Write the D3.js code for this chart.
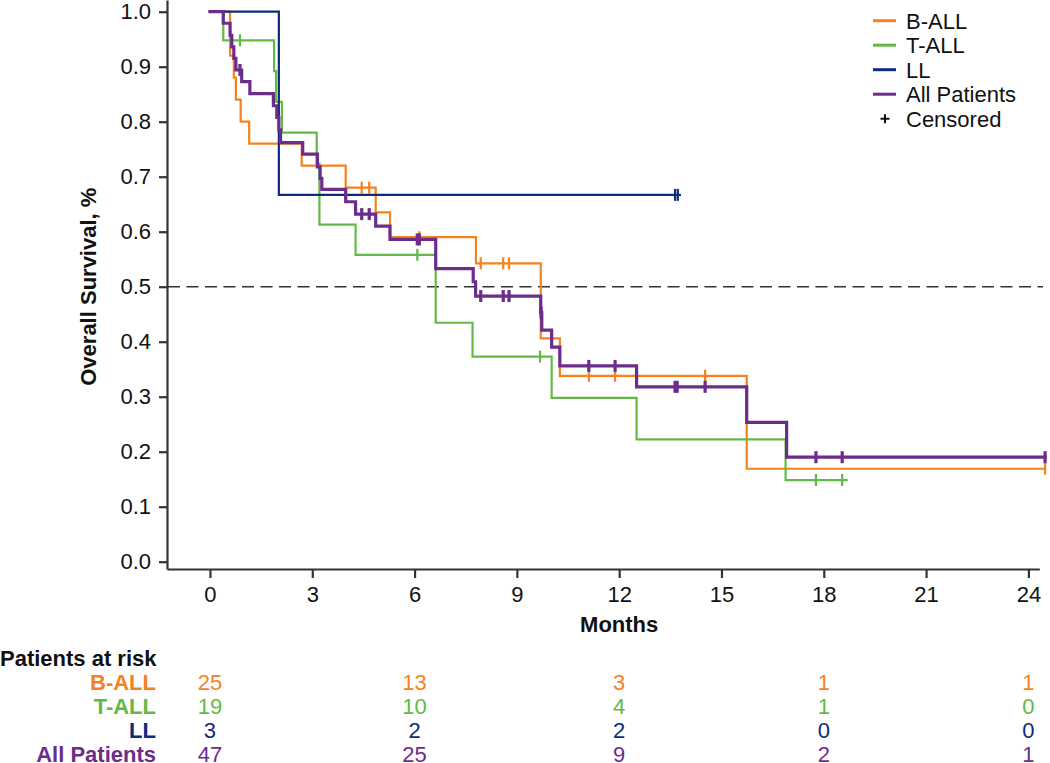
<!DOCTYPE html>
<html><head><meta charset="utf-8">
<script src="https://cdn.jsdelivr.net/npm/d3@7"></script>
<style>
body{margin:0;background:#fff;}
svg{display:block;}
text{font-family:"Liberation Sans",Arial,Helvetica,sans-serif;}
</style>
</head><body>
<svg id="c" width="1050" height="763"></svg>
<script>
// ---------------- DATA ----------------
const seriesNames = ["B-ALL", "T-ALL", "LL", "All Patients"];
const seriesColors = ["#F5821F", "#63B946", "#0C2C7C", "#6B2C8C"];

// step drop times (months) and survival after each drop
const bAllTimes = [0.59, 0.70, 0.76, 0.90, 1.15, 2.69, 3.98, 4.86, 5.28, 7.80, 9.70, 10.26, 15.74];
const bAllSurv  = [0.92, 0.88, 0.84, 0.80, 0.76, 0.72, 0.68, 0.635, 0.59, 0.5425, 0.406, 0.338, 0.169];
const bAllCensor = [4.45, 4.67, 6.14, 7.94, 8.60, 8.77, 11.11, 11.88, 14.52, 24.49];
const bAllEnd = 24.49;

const tAllTimes = [0.39, 1.88, 1.94, 2.11, 3.13, 3.21, 4.27, 6.62, 7.70, 10.02, 12.51, 16.88];
const tAllSurv  = [0.948, 0.892, 0.836, 0.780, 0.724, 0.613, 0.558, 0.4345, 0.373, 0.298, 0.2225, 0.1485];
const tAllCensor = [0.88, 6.08, 9.68, 17.77, 18.54];
const tAllEnd = 18.67;

const llTimes = [2.02];
const llSurv  = [0.667];
const llCensor = [13.64, 13.72];
const llEnd = 13.78;

const allTimes = [0.39, 0.59, 0.64, 0.70, 0.76, 0.93, 1.17, 1.86, 1.96, 2.02, 2.07, 2.72, 3.15, 3.23, 3.28,
                  3.98, 4.27, 4.86, 5.28, 6.62, 7.72, 7.79, 9.70, 9.73, 10.02, 10.26, 12.51, 15.74, 16.91];
const allSurv  = [0.979, 0.957, 0.936, 0.915, 0.894, 0.873, 0.851, 0.829, 0.808, 0.785, 0.762, 0.741, 0.718, 0.697, 0.677,
                  0.6545, 0.632, 0.610, 0.586, 0.533, 0.509, 0.483, 0.453, 0.421, 0.390, 0.356, 0.318, 0.2535, 0.190];
const allCensor = [0.88, 4.45, 4.67, 6.08, 6.14, 7.94, 8.60, 8.77, 9.71, 11.11, 11.88, 13.64, 13.70, 14.52, 17.77, 18.54, 24.49];
const allEnd = 24.49;

const xTicks = [0, 3, 6, 9, 12, 15, 18, 21, 24];
const yTicks = [0, 0.1, 0.2, 0.3, 0.4, 0.5, 0.6, 0.7, 0.8, 0.9, 1.0];
const riskTimes = [0, 6, 12, 18, 24];
const riskBAll = [25, 13, 3, 1, 1];
const riskTAll = [19, 10, 4, 1, 0];
const riskLL   = [3, 2, 2, 0, 0];
const riskAll  = [47, 25, 9, 2, 1];
const medianLine = 0.5;

// ---------------- CHART ----------------
const series = [
  {name: seriesNames[0], color: seriesColors[0], times: bAllTimes, surv: bAllSurv, censor: bAllCensor, end: bAllEnd, w: 2.2},
  {name: seriesNames[1], color: seriesColors[1], times: tAllTimes, surv: tAllSurv, censor: tAllCensor, end: tAllEnd, w: 2.2},
  {name: seriesNames[2], color: seriesColors[2], times: llTimes, surv: llSurv, censor: llCensor, end: llEnd, w: 2.2},
  {name: seriesNames[3], color: seriesColors[3], times: allTimes, surv: allSurv, censor: allCensor, end: allEnd, w: 3.2}
];
const risk = [riskBAll, riskTAll, riskLL, riskAll];

const svg = d3.select("#c");
const x = d3.scaleLinear().domain([-1.26, 24.32]).range([167, 1039.3]);
const y = d3.scaleLinear().domain([-0.01327, 1.0213]).range([569, 0]);
const axisColor = "#333";
const FS = "22px";

// axes
const gx = svg.append("g").attr("transform", "translate(0,569)")
  .call(d3.axisBottom(x).tickValues(xTicks).tickFormat(d3.format("d")).tickSize(9).tickPadding(8).tickSizeOuter(0));
const gy = svg.append("g").attr("transform", "translate(167,0)")
  .call(d3.axisLeft(y).tickValues(yTicks).tickFormat(d3.format(".1f")).tickSize(8).tickPadding(8).tickSizeOuter(0));
[gx, gy].forEach(g => {
  g.select(".domain").attr("stroke", axisColor).attr("stroke-width", 2.2);
  g.selectAll(".tick line").attr("stroke", axisColor).attr("stroke-width", 2.2);
  g.selectAll(".tick text").attr("fill", "#111").style("font-size", FS).style("font-family", '"Liberation Sans",Arial,sans-serif');
});

// median dashed line
svg.append("line")
  .attr("x1", 168).attr("x2", 1043)
  .attr("y1", y(medianLine)).attr("y2", y(medianLine))
  .attr("stroke", "#333").attr("stroke-width", 1.5).attr("stroke-dasharray", "12,6.5");

// axis titles
svg.append("text").attr("x", x(12)).attr("y", 631.5).attr("text-anchor", "middle")
  .style("font-size", FS).style("font-weight", "bold").attr("fill", "#111").text("Months");
svg.append("text").attr("transform", `translate(96,${y(0.5)}) rotate(-90)`).attr("text-anchor", "middle")
  .style("font-size", FS).style("font-weight", "bold").attr("fill", "#111").text("Overall Survival, %");

// curves
const line = d3.line().x(d => x(d[0])).y(d => y(d[1])).curve(d3.curveStepAfter);
function survAt(s, t) {
  let v = 1;
  for (let i = 0; i < s.times.length; i++) if (s.times[i] <= t) v = s.surv[i];
  return v;
}
series.forEach(s => {
  const pts = [[0, 1]];
  s.times.forEach((t, i) => pts.push([t, s.surv[i]]));
  pts.push([s.end, s.surv[s.surv.length - 1]]);
  svg.append("path").datum(pts).attr("d", line)
    .attr("fill", "none").attr("stroke", s.color).attr("stroke-width", s.w)
    .attr("stroke-linejoin", "miter").attr("stroke-linecap", "square");
  svg.append("g").selectAll("line").data(s.censor).join("line")
    .attr("x1", d => x(d)).attr("x2", d => x(d))
    .attr("y1", d => y(survAt(s, d)) - 6).attr("y2", d => y(survAt(s, d)) + 6)
    .attr("stroke", s.color).attr("stroke-width", s.w);
});

// legend
const lg = svg.append("g");
const legY0 = 20.7, legDy = 24.5;
series.forEach((s, i) => {
  const yy = legY0 + i * legDy;
  lg.append("line").attr("x1", 873).attr("x2", 896).attr("y1", yy).attr("y2", yy)
    .attr("stroke", s.color).attr("stroke-width", 3);
  lg.append("text").attr("x", 906).attr("y", yy + 7.8).style("font-size", FS).attr("fill", "#111").text(s.name);
});
{
  const yy = legY0 + 4 * legDy;
  lg.append("path").attr("d", `M880.5,${yy}h9M885,${yy - 4.5}v9`).attr("stroke", "#111").attr("stroke-width", 2);
  lg.append("text").attr("x", 906).attr("y", yy + 7.8).style("font-size", FS).attr("fill", "#111").text("Censored");
}

// risk table
svg.append("text").attr("x", 0).attr("y", 666).style("font-size", FS).style("font-weight", "bold")
  .attr("fill", "#111").text("Patients at risk");
const rowBase = [690, 714, 738, 761.5];
series.forEach((s, i) => {
  svg.append("text").attr("x", 156).attr("y", rowBase[i]).attr("text-anchor", "end")
    .style("font-size", FS).style("font-weight", "bold").attr("fill", s.color).text(s.name);
  svg.append("g").selectAll("text").data(risk[i]).join("text")
    .attr("x", (d, j) => x(riskTimes[j])).attr("y", rowBase[i]).attr("text-anchor", "middle")
    .style("font-size", FS).attr("fill", s.color).text(d => d);
});
</script>
</body></html>
